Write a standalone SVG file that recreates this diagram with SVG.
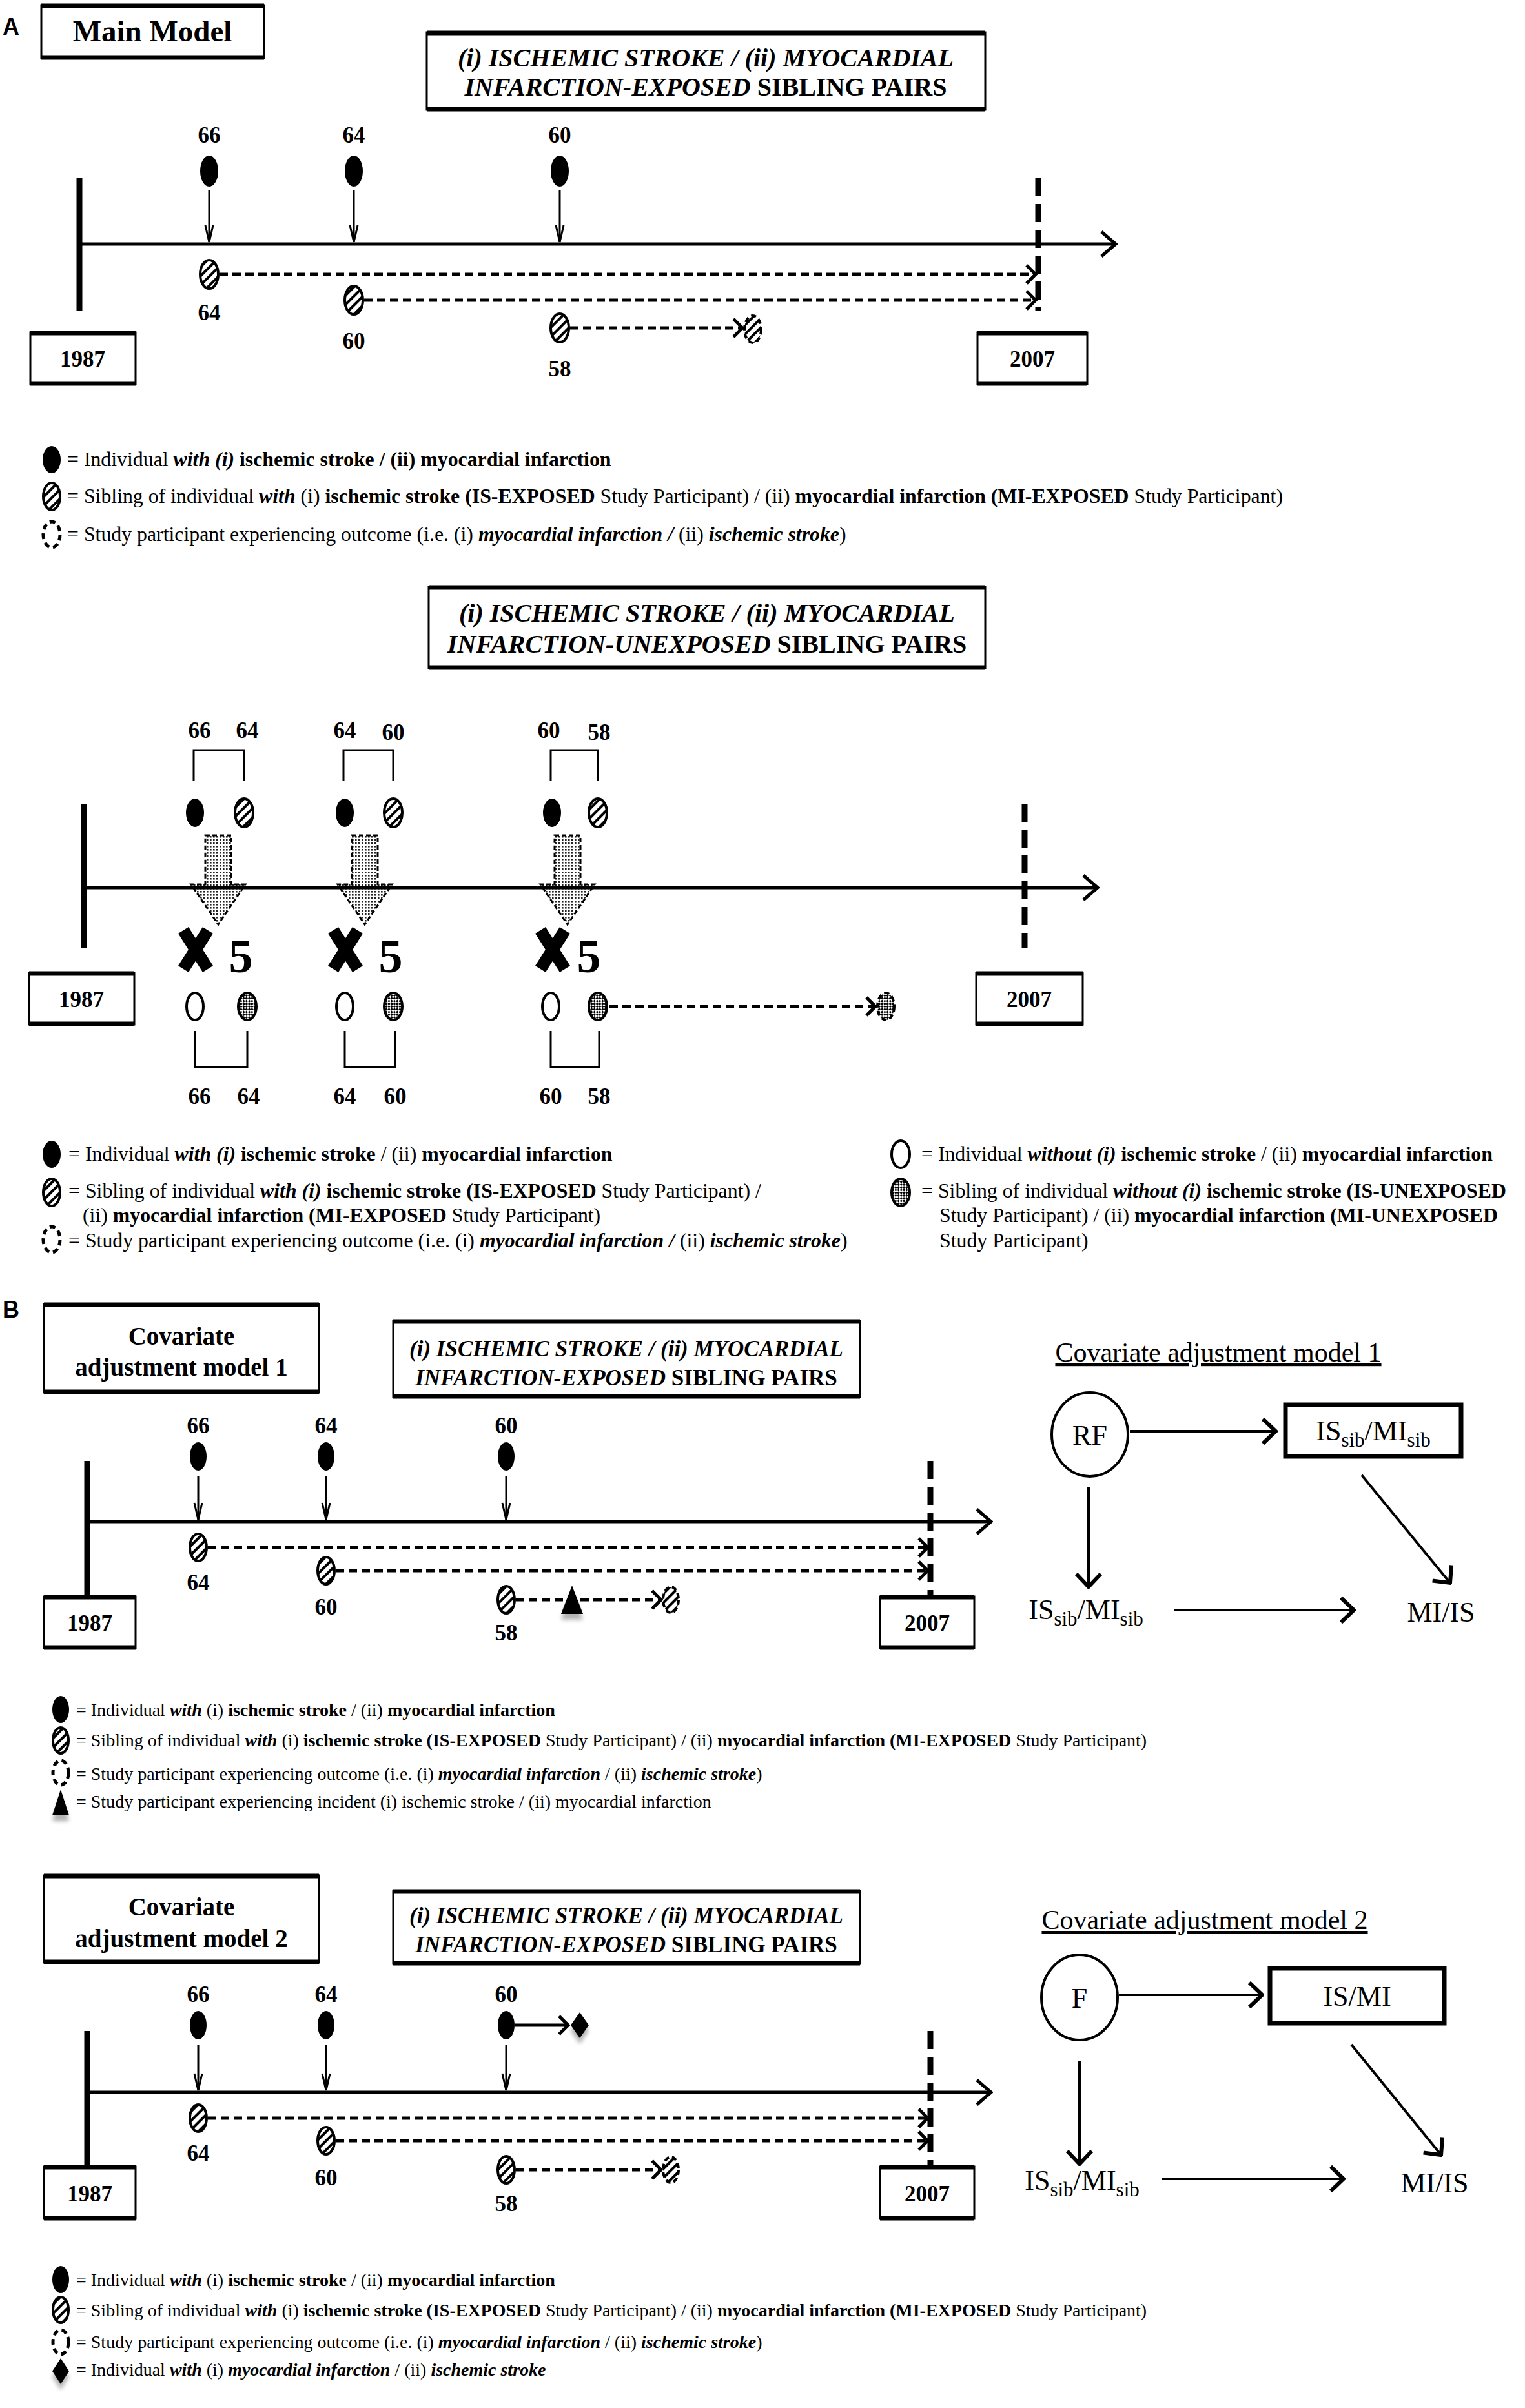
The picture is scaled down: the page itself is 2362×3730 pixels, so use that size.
<svg xmlns="http://www.w3.org/2000/svg" width="2362" height="3730" viewBox="0 0 2362 3730">
<defs>
<style>
text{font-family:"Liberation Serif","Times New Roman",serif;fill:#000}
.sans{font-family:"Liberation Sans",Arial,sans-serif;font-weight:bold;font-size:36px}
.b{font-weight:bold}
.i{font-style:italic}
.bi{font-weight:bold;font-style:italic}
.lbl{font-size:35px;font-weight:bold;text-anchor:middle}
.yr{font-size:35px;font-weight:bold;text-anchor:middle}
.ttl{font-size:40px;text-anchor:middle}
.ttlB{font-size:35px;text-anchor:middle}
.box{fill:#fff;stroke:#000;stroke-width:3}
.edge{stroke:#000;stroke-width:7}
.axis{stroke:#000;stroke-width:5;fill:none}
.bar{stroke:#000;stroke-width:9}
.dbar{stroke:#000;stroke-width:9;stroke-dasharray:28 12}
.dn{stroke:#000;stroke-width:3;fill:none}
.dash{stroke:#000;stroke-width:5;stroke-dasharray:13 7;fill:none}
.brk{stroke:#000;stroke-width:3;fill:none}
.fil{fill:#000}
.hat{fill:url(#hatch);stroke:#000;stroke-width:4}
.out{fill:url(#hatch);stroke:#000;stroke-width:4;stroke-dasharray:8 5}
.outs{fill:url(#check);stroke:#000;stroke-width:4;stroke-dasharray:8 5}
.open{fill:#fff;stroke:#000;stroke-width:4}
.stip{fill:url(#check);stroke:#000;stroke-width:4}
.legout{fill:#fff;stroke:#000;stroke-width:5;stroke-dasharray:9 6}
.big{fill:url(#dots);stroke:#000;stroke-width:3;stroke-dasharray:7 4}
.xm{stroke:#000;stroke-width:19}
.five{font-size:74px;font-weight:bold;text-anchor:middle}
.leg{font-size:31.8px}
.leg2{font-size:28px}
.dag{stroke:#000;stroke-width:4;fill:none}
.dagt{font-size:44px;text-anchor:middle}
.dagh{font-size:42px;text-anchor:middle;text-decoration:underline}
.sub{font-size:31px}
.node{fill:#fff;stroke:#000;stroke-width:4}
.nodebox{fill:#fff;stroke:#000;stroke-width:7}
</style>
<pattern id="hatch" patternUnits="userSpaceOnUse" width="10" height="10" patternTransform="rotate(45)"><rect width="10" height="10" fill="#fff"/><rect width="4" height="10" fill="#000"/></pattern>
<pattern id="check" patternUnits="userSpaceOnUse" width="6" height="6" patternTransform="rotate(45)"><rect width="6" height="6" fill="#fff"/><rect width="3" height="3" fill="#000"/><rect x="3" y="3" width="3" height="3" fill="#000"/></pattern>
<pattern id="dots" patternUnits="userSpaceOnUse" width="5" height="5"><rect width="5" height="5" fill="#fff"/><rect width="2.6" height="2.6" fill="#222"/></pattern>
<filter id="sh" x="-60%" y="-60%" width="220%" height="260%"><feGaussianBlur in="SourceAlpha" stdDeviation="3"/><feOffset dy="9"/><feComponentTransfer><feFuncA type="linear" slope="0.3"/></feComponentTransfer><feMerge><feMergeNode/><feMergeNode in="SourceGraphic"/></feMerge></filter>
<marker id="mAx" markerUnits="userSpaceOnUse" viewBox="0 0 28 44" refX="25" refY="22" markerWidth="28" markerHeight="44" orient="auto"><path d="M3,3 L25,22 L3,41" fill="none" stroke="#000" stroke-width="5"/></marker>
<marker id="mDn" markerUnits="userSpaceOnUse" viewBox="0 0 30 16" refX="28" refY="8" markerWidth="30" markerHeight="16" orient="auto"><path d="M2,2 L28,8 L2,14" fill="none" stroke="#000" stroke-width="3"/></marker>
<marker id="mDs" markerUnits="userSpaceOnUse" viewBox="0 0 20 34" refX="17" refY="17" markerWidth="20" markerHeight="34" orient="auto"><path d="M3,3 L17,17 L3,31" fill="none" stroke="#000" stroke-width="5"/></marker>
<marker id="mDag" markerUnits="userSpaceOnUse" viewBox="0 0 26 44" refX="23" refY="22" markerWidth="26" markerHeight="44" orient="auto"><path d="M3,3 L23,22 L3,41" fill="none" stroke="#000" stroke-width="6"/></marker>
</defs>
<rect width="2362" height="3730" fill="#fff"/>

<!-- ===================== PANEL A : main model ===================== -->
<g id="panelA">
<text class="sans" x="4" y="54">A</text>
<g id="main-model-box"><rect class="box" x="64" y="8" width="345" height="82"/><line class="edge" x1="64" y1="9" x2="409" y2="9"/><line class="edge" x1="64" y1="89" x2="409" y2="89"/><text x="236" y="64" font-size="47" font-weight="bold" text-anchor="middle">Main Model</text></g>
<g id="title-exposed-A"><rect class="box" x="661" y="50" width="865" height="120"/><line class="edge" x1="661" y1="51" x2="1526" y2="51"/><line class="edge" x1="661" y1="169" x2="1526" y2="169"/>
<text class="ttl bi" x="1093" y="103">(i) ISCHEMIC STROKE / (ii) MYOCARDIAL</text>
<text class="ttl b" x="1093" y="148"><tspan class="i">INFARCTION-EXPOSED</tspan> SIBLING PAIRS</text></g>
<g id="timelineA">
<line class="bar" x1="123" y1="276" x2="123" y2="482"/>
<line class="dbar" x1="1608" y1="276" x2="1608" y2="482"/>
<g id="y1987A"><rect class="box" x="47" y="515" width="163" height="80"/><line class="edge" x1="47" y1="516" x2="210" y2="516"/><line class="edge" x1="47" y1="594" x2="210" y2="594"/><text class="yr" x="128" y="568">1987</text></g>
<g id="y2007A"><rect class="box" x="1514" y="515" width="170" height="80"/><line class="edge" x1="1514" y1="516" x2="1684" y2="516"/><line class="edge" x1="1514" y1="594" x2="1684" y2="594"/><text class="yr" x="1599" y="568">2007</text></g>
</g>
<g id="nodesA">
<g id="a-case66"><text class="lbl" x="324" y="221">66</text><ellipse class="fil" cx="324" cy="265" rx="14" ry="24"/></g>
<g id="a-case64"><text class="lbl" x="548" y="221">64</text><ellipse class="fil" cx="548" cy="265" rx="14" ry="24"/></g>
<g id="a-case60"><text class="lbl" x="867" y="221">60</text><ellipse class="fil" cx="867" cy="265" rx="14" ry="24"/></g>
<g id="a-sib64"><ellipse class="hat" cx="324" cy="425" rx="14" ry="22"/><text class="lbl" x="324" y="496">64</text></g>
<g id="a-sib60"><ellipse class="hat" cx="548" cy="465" rx="14" ry="22"/><text class="lbl" x="548" y="540">60</text></g>
<g id="a-sib58"><ellipse class="hat" cx="867" cy="508" rx="14" ry="22"/><text class="lbl" x="867" y="583">58</text></g>
<g id="a-outcome"><ellipse class="out" cx="1166" cy="510" rx="13" ry="21"/></g>
</g>
<g id="connectorsA">
<line class="axis" x1="123" y1="378" x2="1728" y2="378" marker-end="url(#mAx)"/>
<line class="dn" x1="324" y1="295" x2="324" y2="375" marker-end="url(#mDn)"/>
<line class="dn" x1="548" y1="295" x2="548" y2="375" marker-end="url(#mDn)"/>
<line class="dn" x1="867" y1="295" x2="867" y2="375" marker-end="url(#mDn)"/>
<line class="dash" x1="340" y1="425" x2="1604" y2="425" marker-end="url(#mDs)"/>
<line class="dash" x1="564" y1="465" x2="1604" y2="465" marker-end="url(#mDs)"/>
<line class="dash" x1="883" y1="508" x2="1150" y2="508" marker-end="url(#mDs)"/>
</g>
</g>

<g id="legendA1">
<ellipse class="fil" cx="80" cy="712" rx="14" ry="21"/>
<text class="leg" x="104" y="722">= Individual <tspan class="bi">with (i)</tspan> <tspan class="b">ischemic stroke / (ii) myocardial infarction</tspan></text>
<ellipse class="hat" cx="80" cy="769" rx="13" ry="21"/>
<text class="leg" x="104" y="779">= Sibling of individual <tspan class="bi">with</tspan> (i) <tspan class="b">ischemic stroke (IS-EXPOSED</tspan> Study Participant) / (ii) <tspan class="b">myocardial infarction (MI-EXPOSED</tspan> Study Participant)</text>
<ellipse class="legout" cx="80" cy="828" rx="13" ry="20"/>
<text class="leg" x="104" y="838">= Study participant experiencing outcome (i.e.  (i) <tspan class="bi">myocardial infarction /</tspan> (ii) <tspan class="bi">ischemic stroke</tspan>)</text>
</g>

<!-- ===================== PANEL A : unexposed ===================== -->
<g id="panelA2">
<g id="title-unexposed"><rect class="box" x="664" y="909" width="862" height="126"/><line class="edge" x1="664" y1="910" x2="1526" y2="910"/><line class="edge" x1="664" y1="1034" x2="1526" y2="1034"/>
<text class="ttl bi" x="1095" y="963">(i) ISCHEMIC STROKE / (ii) MYOCARDIAL</text>
<text class="ttl b" x="1095" y="1011"><tspan class="i">INFARCTION-UNEXPOSED</tspan> SIBLING PAIRS</text></g>
<g id="timelineA2">
<line class="bar" x1="130" y1="1245" x2="130" y2="1469"/>
<line class="dbar" x1="1587" y1="1245" x2="1587" y2="1469"/>
<g id="y1987U"><rect class="box" x="45" y="1507" width="163" height="80"/><line class="edge" x1="45" y1="1508" x2="208" y2="1508"/><line class="edge" x1="45" y1="1586" x2="208" y2="1586"/><text class="yr" x="126" y="1560">1987</text></g>
<g id="y2007U"><rect class="box" x="1512" y="1507" width="165" height="80"/><line class="edge" x1="1512" y1="1508" x2="1677" y2="1508"/><line class="edge" x1="1512" y1="1586" x2="1677" y2="1586"/><text class="yr" x="1594" y="1560">2007</text></g>
</g>
<g id="pair1">
<text class="lbl" x="309" y="1143">66</text><text class="lbl" x="383" y="1143">64</text>
<path class="brk" d="M300,1210 V1162 H378 V1210"/>
<ellipse class="fil" cx="302" cy="1259" rx="14" ry="22"/><ellipse class="hat" cx="378" cy="1259" rx="14" ry="22"/>
<polygon class="big" points="318,1294 358,1294 358,1370 380,1370 338,1432 296,1370 318,1370"/>
<line class="xm" x1="284" y1="1441" x2="322" y2="1501"/><line class="xm" x1="322" y1="1441" x2="284" y2="1501"/>
<text class="five" x="373" y="1506">5</text>
<ellipse class="open" cx="302" cy="1559" rx="13" ry="21"/><ellipse class="stip" cx="383" cy="1559" rx="14" ry="21"/>
<path class="brk" d="M302,1597 V1653 H383 V1597"/>
<text class="lbl" x="309" y="1710">66</text><text class="lbl" x="385" y="1710">64</text>
</g>
<g id="pair2">
<text class="lbl" x="534" y="1143">64</text><text class="lbl" x="609" y="1146">60</text>
<path class="brk" d="M532,1210 V1162 H609 V1210"/>
<ellipse class="fil" cx="534" cy="1259" rx="14" ry="22"/><ellipse class="hat" cx="609" cy="1259" rx="14" ry="22"/>
<polygon class="big" points="545,1294 585,1294 585,1370 607,1370 565,1432 523,1370 545,1370"/>
<line class="xm" x1="516" y1="1441" x2="554" y2="1501"/><line class="xm" x1="554" y1="1441" x2="516" y2="1501"/>
<text class="five" x="605" y="1506">5</text>
<ellipse class="open" cx="534" cy="1559" rx="13" ry="21"/><ellipse class="stip" cx="609" cy="1559" rx="14" ry="21"/>
<path class="brk" d="M534,1597 V1653 H612 V1597"/>
<text class="lbl" x="534" y="1710">64</text><text class="lbl" x="612" y="1710">60</text>
</g>
<g id="pair3">
<text class="lbl" x="850" y="1143">60</text><text class="lbl" x="928" y="1146">58</text>
<path class="brk" d="M853,1210 V1162 H926 V1210"/>
<ellipse class="fil" cx="855" cy="1259" rx="14" ry="22"/><ellipse class="hat" cx="926" cy="1259" rx="14" ry="22"/>
<polygon class="big" points="859,1294 899,1294 899,1370 921,1370 879,1432 837,1370 859,1370"/>
<line class="xm" x1="837" y1="1441" x2="875" y2="1501"/><line class="xm" x1="875" y1="1441" x2="837" y2="1501"/>
<text class="five" x="912" y="1506">5</text>
<ellipse class="open" cx="853" cy="1559" rx="13" ry="21"/><ellipse class="stip" cx="926" cy="1559" rx="14" ry="21"/>
<path class="brk" d="M853,1597 V1653 H928 V1597"/>
<text class="lbl" x="853" y="1710">60</text><text class="lbl" x="928" y="1710">58</text>
</g>
<g id="u-outcome"><ellipse class="outs" cx="1372" cy="1559" rx="13" ry="21"/></g>
<g id="connectorsA2">
<line class="axis" x1="130" y1="1375" x2="1700" y2="1375" marker-end="url(#mAx)"/>
<line class="dash" x1="944" y1="1559" x2="1356" y2="1559" marker-end="url(#mDs)"/>
</g>
</g>

<g id="legendA2">
<ellipse class="fil" cx="80" cy="1788" rx="14" ry="21"/>
<text class="leg" x="106" y="1798">= Individual <tspan class="bi">with (i)</tspan> <tspan class="b">ischemic stroke</tspan> / (ii) <tspan class="b">myocardial infarction</tspan></text>
<ellipse class="hat" cx="80" cy="1847" rx="13" ry="21"/>
<text class="leg" x="106" y="1855">= Sibling of individual <tspan class="bi">with (i)</tspan> <tspan class="b">ischemic stroke (IS-EXPOSED</tspan> Study Participant) /</text>
<text class="leg" x="128" y="1893">(ii) <tspan class="b">myocardial infarction (MI-EXPOSED</tspan> Study Participant)</text>
<ellipse class="legout" cx="80" cy="1920" rx="13" ry="20"/>
<text class="leg" x="106" y="1932">= Study participant experiencing outcome (i.e. (i) <tspan class="bi">myocardial infarction /</tspan> (ii) <tspan class="bi">ischemic stroke</tspan>)</text>
<ellipse class="open" cx="1395" cy="1788" rx="14" ry="21"/>
<text class="leg" x="1427" y="1798">= Individual <tspan class="bi">without (i)</tspan> <tspan class="b">ischemic stroke</tspan> / (ii) <tspan class="b">myocardial infarction</tspan></text>
<ellipse class="stip" cx="1395" cy="1847" rx="14" ry="21"/>
<text class="leg" x="1427" y="1855">= Sibling of individual <tspan class="bi">without (i)</tspan> <tspan class="b">ischemic stroke  (IS-UNEXPOSED</tspan></text>
<text class="leg" x="1455" y="1893">Study Participant) / (ii)  <tspan class="b">myocardial infarction (MI-UNEXPOSED</tspan></text>
<text class="leg" x="1455" y="1932">Study Participant)</text>
</g>

<!-- ===================== PANEL B : model 1 ===================== -->
<g id="panelB1">
<text class="sans" x="4" y="2041">B</text>
<g id="cov1-box"><rect class="box" x="68" y="2020" width="426" height="137"/><line class="edge" x1="68" y1="2021" x2="494" y2="2021"/><line class="edge" x1="68" y1="2156" x2="494" y2="2156"/>
<text x="281" y="2083" font-size="39" font-weight="bold" text-anchor="middle">Covariate</text>
<text x="281" y="2131" font-size="39" font-weight="bold" text-anchor="middle">adjustment model 1</text></g>
<g id="title-B1"><rect class="box" x="609" y="2046" width="723" height="118"/><line class="edge" x1="609" y1="2047" x2="1332" y2="2047"/><line class="edge" x1="609" y1="2163" x2="1332" y2="2163"/>
<text class="ttlB bi" x="970" y="2101">(i) ISCHEMIC STROKE / (ii) MYOCARDIAL</text>
<text class="ttlB b" x="970" y="2146"><tspan class="i">INFARCTION-EXPOSED</tspan> SIBLING PAIRS</text></g>
<g id="timelineB1">
<line class="bar" x1="135" y1="2263" x2="135" y2="2480"/>
<line class="dbar" x1="1441" y1="2263" x2="1441" y2="2480"/>
<g id="y1987B1"><rect class="box" x="68" y="2473" width="142" height="80"/><line class="edge" x1="68" y1="2474" x2="210" y2="2474"/><line class="edge" x1="68" y1="2552" x2="210" y2="2552"/><text class="yr" x="139" y="2526">1987</text></g>
<g id="y2007B1"><rect class="box" x="1363" y="2473" width="146" height="80"/><line class="edge" x1="1363" y1="2474" x2="1509" y2="2474"/><line class="edge" x1="1363" y1="2552" x2="1509" y2="2552"/><text class="yr" x="1436" y="2526">2007</text></g>
</g>
<g id="nodesB1">
<g id="b1-case66"><text class="lbl" x="307" y="2220">66</text><ellipse class="fil" cx="307" cy="2256" rx="13" ry="22"/></g>
<g id="b1-case64"><text class="lbl" x="505" y="2220">64</text><ellipse class="fil" cx="505" cy="2256" rx="13" ry="22"/></g>
<g id="b1-case60"><text class="lbl" x="784" y="2220">60</text><ellipse class="fil" cx="784" cy="2256" rx="13" ry="22"/></g>
<g id="b1-sib64"><ellipse class="hat" cx="307" cy="2397" rx="13" ry="21"/><text class="lbl" x="307" y="2463">64</text></g>
<g id="b1-sib60"><ellipse class="hat" cx="505" cy="2433" rx="13" ry="21"/><text class="lbl" x="505" y="2501">60</text></g>
<g id="b1-sib58"><ellipse class="hat" cx="784" cy="2478" rx="13" ry="21"/><text class="lbl" x="784" y="2541">58</text></g>
<g id="b1-incident"><polygon class="fil" filter="url(#sh)" points="886,2456 869,2500 903,2500"/></g>
<g id="b1-outcome"><ellipse class="out" cx="1039" cy="2478" rx="12" ry="20"/></g>
</g>
<g id="connectorsB1">
<line class="axis" x1="135" y1="2357" x2="1535" y2="2357" marker-end="url(#mAx)"/>
<line class="dn" x1="307" y1="2287" x2="307" y2="2354" marker-end="url(#mDn)"/>
<line class="dn" x1="505" y1="2287" x2="505" y2="2354" marker-end="url(#mDn)"/>
<line class="dn" x1="784" y1="2287" x2="784" y2="2354" marker-end="url(#mDn)"/>
<line class="dash" x1="322" y1="2397" x2="1437" y2="2397" marker-end="url(#mDs)"/>
<line class="dash" x1="520" y1="2433" x2="1437" y2="2433" marker-end="url(#mDs)"/>
<line class="dash" x1="799" y1="2478" x2="1024" y2="2478" marker-end="url(#mDs)"/>
</g>
</g>

<g id="dag1">
<text class="dagh" x="1887" y="2109">Covariate adjustment model 1</text>
<g id="dag1-RF"><ellipse class="node" cx="1688" cy="2222" rx="59" ry="65"/><text class="dagt" x="1688" y="2238">RF</text></g>
<g id="dag1-sibbox"><rect class="nodebox" x="1991" y="2176" width="272" height="80"/><text class="dagt" x="2127" y="2231">IS<tspan class="sub" dy="10">sib</tspan><tspan dy="-10">/MI</tspan><tspan class="sub" dy="10">sib</tspan></text></g>
<g id="dag1-sib"><text class="dagt" x="1682" y="2508">IS<tspan class="sub" dy="10">sib</tspan><tspan dy="-10">/MI</tspan><tspan class="sub" dy="10">sib</tspan></text></g>
<g id="dag1-out"><text class="dagt" x="2232" y="2512">MI/IS</text></g>
<g id="connectorsDag1">
<line class="dag" x1="1750" y1="2217" x2="1976" y2="2217" marker-end="url(#mDag)"/>
<line class="dag" x1="2109" y1="2285" x2="2246" y2="2452" marker-end="url(#mDag)"/>
<line class="dag" x1="1686" y1="2303" x2="1686" y2="2458" marker-end="url(#mDag)"/>
<line class="dag" x1="1818" y1="2494" x2="2097" y2="2494" marker-end="url(#mDag)"/>
</g>
</g>

<g id="legendB1">
<ellipse class="fil" cx="94" cy="2648" rx="13" ry="21"/>
<text class="leg2" x="118" y="2658">= Individual <tspan class="bi">with</tspan> (i) <tspan class="b">ischemic stroke</tspan> / (ii) <tspan class="b">myocardial infarction</tspan></text>
<ellipse class="hat" cx="94" cy="2696" rx="12" ry="20"/>
<text class="leg2" x="118" y="2705">= Sibling of individual <tspan class="bi">with</tspan> (i) <tspan class="b">ischemic stroke (IS-EXPOSED</tspan> Study Participant) / (ii) <tspan class="b">myocardial infarction (MI-EXPOSED</tspan> Study Participant)</text>
<ellipse class="legout" cx="94" cy="2746" rx="12" ry="19"/>
<text class="leg2" x="118" y="2757">= Study participant experiencing outcome (i.e. (i) <tspan class="bi">myocardial infarction</tspan> / (ii) <tspan class="bi">ischemic stroke</tspan>)</text>
<polygon class="fil" filter="url(#sh)" points="94,2772 81,2812 107,2812"/>
<text class="leg2" x="118" y="2800">= Study participant experiencing incident (i) ischemic stroke / (ii) myocardial infarction</text>
</g>

<!-- ===================== PANEL B : model 2 ===================== -->
<g id="panelB2">
<g id="cov2-box"><rect class="box" x="68" y="2905" width="426" height="135"/><line class="edge" x1="68" y1="2906" x2="494" y2="2906"/><line class="edge" x1="68" y1="3039" x2="494" y2="3039"/>
<text x="281" y="2967" font-size="39" font-weight="bold" text-anchor="middle">Covariate</text>
<text x="281" y="3016" font-size="39" font-weight="bold" text-anchor="middle">adjustment model 2</text></g>
<g id="title-B2"><rect class="box" x="609" y="2929" width="723" height="113"/><line class="edge" x1="609" y1="2930" x2="1332" y2="2930"/><line class="edge" x1="609" y1="3041" x2="1332" y2="3041"/>
<text class="ttlB bi" x="970" y="2979">(i) ISCHEMIC STROKE / (ii) MYOCARDIAL</text>
<text class="ttlB b" x="970" y="3024"><tspan class="i">INFARCTION-EXPOSED</tspan> SIBLING PAIRS</text></g>
<g id="timelineB2">
<line class="bar" x1="135" y1="3146" x2="135" y2="3366"/>
<line class="dbar" x1="1441" y1="3146" x2="1441" y2="3366"/>
<g id="y1987B2"><rect class="box" x="68" y="3356" width="142" height="81"/><line class="edge" x1="68" y1="3357" x2="210" y2="3357"/><line class="edge" x1="68" y1="3436" x2="210" y2="3436"/><text class="yr" x="139" y="3410">1987</text></g>
<g id="y2007B2"><rect class="box" x="1363" y="3356" width="146" height="81"/><line class="edge" x1="1363" y1="3357" x2="1509" y2="3357"/><line class="edge" x1="1363" y1="3436" x2="1509" y2="3436"/><text class="yr" x="1436" y="3410">2007</text></g>
</g>
<g id="nodesB2">
<g id="b2-case66"><text class="lbl" x="307" y="3101">66</text><ellipse class="fil" cx="307" cy="3137" rx="13" ry="22"/></g>
<g id="b2-case64"><text class="lbl" x="505" y="3101">64</text><ellipse class="fil" cx="505" cy="3137" rx="13" ry="22"/></g>
<g id="b2-case60"><text class="lbl" x="784" y="3101">60</text><ellipse class="fil" cx="784" cy="3137" rx="13" ry="22"/></g>
<g id="b2-diamond"><polygon class="fil" filter="url(#sh)" points="898,3117 912,3137 898,3157 884,3137"/></g>
<g id="b2-sib64"><ellipse class="hat" cx="307" cy="3281" rx="13" ry="21"/><text class="lbl" x="307" y="3347">64</text></g>
<g id="b2-sib60"><ellipse class="hat" cx="505" cy="3316" rx="13" ry="21"/><text class="lbl" x="505" y="3385">60</text></g>
<g id="b2-sib58"><ellipse class="hat" cx="784" cy="3361" rx="13" ry="21"/><text class="lbl" x="784" y="3425">58</text></g>
<g id="b2-outcome"><ellipse class="out" cx="1039" cy="3361" rx="12" ry="20"/></g>
</g>
<g id="connectorsB2">
<line class="axis" x1="135" y1="3241" x2="1535" y2="3241" marker-end="url(#mAx)"/>
<line x1="797" y1="3137" x2="880" y2="3137" stroke="#000" stroke-width="5" marker-end="url(#mDs)"/>
<line class="dn" x1="307" y1="3167" x2="307" y2="3238" marker-end="url(#mDn)"/>
<line class="dn" x1="505" y1="3167" x2="505" y2="3238" marker-end="url(#mDn)"/>
<line class="dn" x1="784" y1="3167" x2="784" y2="3238" marker-end="url(#mDn)"/>
<line class="dash" x1="322" y1="3281" x2="1437" y2="3281" marker-end="url(#mDs)"/>
<line class="dash" x1="520" y1="3316" x2="1437" y2="3316" marker-end="url(#mDs)"/>
<line class="dash" x1="799" y1="3361" x2="1024" y2="3361" marker-end="url(#mDs)"/>
</g>
</g>

<g id="dag2">
<text class="dagh" x="1866" y="2988">Covariate adjustment model 2</text>
<g id="dag2-F"><ellipse class="node" cx="1672" cy="3094" rx="59" ry="66"/><text class="dagt" x="1672" y="3110">F</text></g>
<g id="dag2-box"><rect class="nodebox" x="1967" y="3049" width="270" height="85"/><text class="dagt" x="2102" y="3107">IS/MI</text></g>
<g id="dag2-sib"><text class="dagt" x="1676" y="3392">IS<tspan class="sub" dy="10">sib</tspan><tspan dy="-10">/MI</tspan><tspan class="sub" dy="10">sib</tspan></text></g>
<g id="dag2-out"><text class="dagt" x="2222" y="3396">MI/IS</text></g>
<g id="connectorsDag2">
<line class="dag" x1="2093" y1="3167" x2="2232" y2="3338" marker-end="url(#mDag)"/>
<line class="dag" x1="1733" y1="3090" x2="1955" y2="3090" marker-end="url(#mDag)"/>
<line class="dag" x1="1672" y1="3193" x2="1672" y2="3352" marker-end="url(#mDag)"/>
<line class="dag" x1="1800" y1="3375" x2="2081" y2="3375" marker-end="url(#mDag)"/>
</g>
</g>

<g id="legendB2">
<ellipse class="fil" cx="94" cy="3531" rx="13" ry="21"/>
<text class="leg2" x="118" y="3541">= Individual <tspan class="bi">with</tspan> (i) <tspan class="b">ischemic stroke</tspan> / (ii) <tspan class="b">myocardial infarction</tspan></text>
<ellipse class="hat" cx="94" cy="3578" rx="12" ry="20"/>
<text class="leg2" x="118" y="3588">= Sibling of individual <tspan class="bi">with</tspan> (i) <tspan class="b">ischemic stroke (IS-EXPOSED</tspan> Study Participant) / (ii) <tspan class="b">myocardial infarction (MI-EXPOSED</tspan> Study Participant)</text>
<ellipse class="legout" cx="94" cy="3628" rx="12" ry="19"/>
<text class="leg2" x="118" y="3637">= Study participant experiencing outcome (i.e. (i) <tspan class="bi">myocardial infarction</tspan> / (ii) <tspan class="bi">ischemic stroke</tspan>)</text>
<polygon class="fil" filter="url(#sh)" points="94,3653 107,3673 94,3693 81,3673"/>
<text class="leg2" x="118" y="3680">= Individual <tspan class="bi">with</tspan> (i) <tspan class="bi">myocardial infarction</tspan> / (ii) <tspan class="bi">ischemic stroke</tspan></text>
</g>
</svg>
